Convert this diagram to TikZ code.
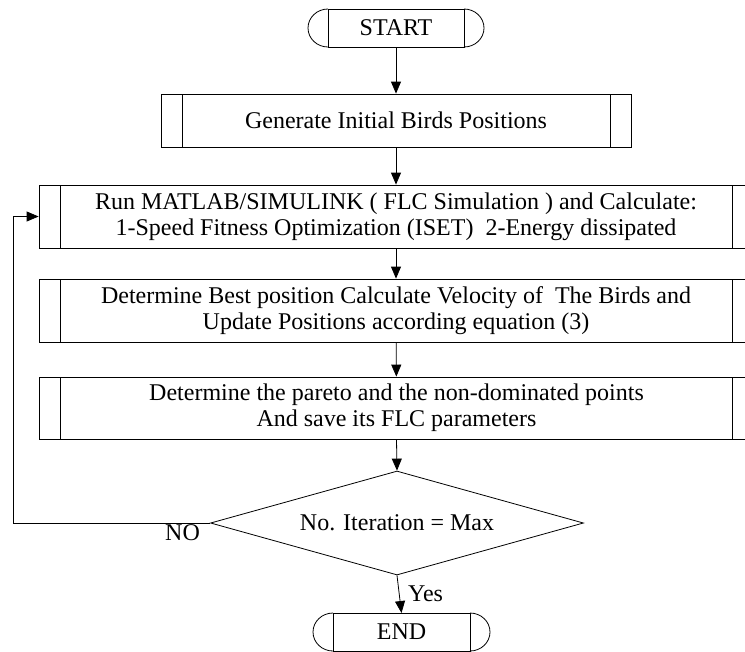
\documentclass[tikz,border=0pt]{standalone}
\usepackage{fontspec}
\setmainfont{Liberation Serif}
\usetikzlibrary{arrows.meta,shapes.geometric}
\def\termcaps(#1){\draw (#1.north west) arc[start angle=90, end angle=270, x radius=15pt, y radius=14.25pt];
	\draw (#1.north east) arc[start angle=90, end angle=-90, x radius=15pt, y radius=14.25pt];}
\tikzset{
	flow/.style={-{Triangle[length=9pt,width=7.5pt]}},
	subproc/.style={draw, rectangle, minimum width=#1, minimum height=47.25pt, align=center, inner sep=0pt,
		path picture={
			\draw ([xshift=15.75pt]path picture bounding box.north west) -- ([xshift=15.75pt]path picture bounding box.south west);
			\draw ([xshift=-15.75pt]path picture bounding box.north east) -- ([xshift=-15.75pt]path picture bounding box.south east);}},
	term/.style={draw, rectangle, minimum width=#1, minimum height=28.5pt, outer sep=0pt},
	decide/.style={draw, diamond, aspect=3.6, minimum width=279.75pt, minimum height=78pt, inner sep=0pt}
}
\begin{document}
\begin{tikzpicture}[x=0.75pt, y=-0.75pt, line width=0.6pt, font=\fontsize{18}{19.5}\selectfont]
				\useasboundingbox (0,0) rectangle (745,651);
				
				\node[term=102pt] (start) at (396,28) {START};
				\termcaps(start)
				
				\node[subproc=352.5pt, minimum height=39.75pt] (gen) at (396,120.5) {Generate Initial Birds Positions};
				\node[subproc=535.5pt] (run) at (396,216.5) {Run MATLAB/SIMULINK ( FLC Simulation ) and Calculate:\\1-Speed Fitness Optimization (ISET)\ \ 2-Energy dissipated};
				\node[subproc=535.5pt] (best) at (396,310.5) {Determine Best position Calculate Velocity of\ \ The Birds and\\Update Positions according equation (3)};
				\node[subproc=535.5pt, minimum height=46.5pt] (pareto) at (396.5,408) {Determine the pareto and the non-dominated points\\And save its FLC parameters};
				
				\node[decide] (iter) at (397,523) {No. Iteration = Max};
				
				\node[term=102.75pt] (stop) at (401.5,632) {END};
				\termcaps(stop)
				
				\draw[flow] (start) -- (gen);
				\draw[flow] (gen) -- (run);
				\draw[flow] (run) -- (best);
				\draw[flow] (best) -- (pareto);
				\draw[flow] (pareto.south) -- (iter.north);
				
				% loop back
				\coordinate (back) at (13,523);
				\draw[flow] (iter.west) -- node[pos=0.14, below, inner sep=1pt] {NO} (back) |- (run.west);
				\draw[flow] (iter.south) -- node[right, xshift=3pt] {Yes} (stop.north);
			\end{tikzpicture}
\end{document}
